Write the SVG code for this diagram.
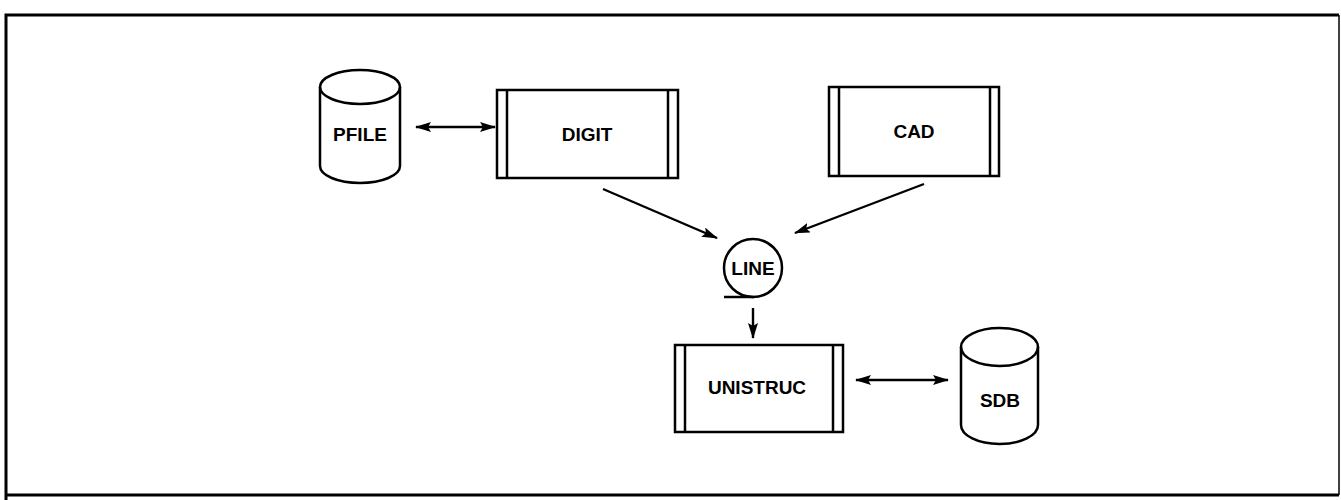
<svg xmlns="http://www.w3.org/2000/svg" width="1341" height="500" viewBox="0 0 1341 500">
<style>
.frame{fill:none;stroke:#000;stroke-width:3}
.shape{fill:#fff;stroke:#000;stroke-width:2.5}
.line{fill:none;stroke:#000;stroke-width:2.5}
.conn{fill:none;stroke:#000;stroke-width:2.4}
.lbl{font-family:"Liberation Sans",Arial,sans-serif;font-weight:bold;font-size:19px;text-anchor:middle;fill:#000}
</style>
<defs>
<marker id="ah" viewBox="0 0 16 10" refX="15" refY="5" markerWidth="16" markerHeight="10" markerUnits="userSpaceOnUse" orient="auto-start-reverse">
<path d="M0,0 L16,5 L0,10 L3,5 Z" fill="#000"/>
</marker>
</defs>
<rect width="1341" height="500" fill="#fff"/>
<g id="frame">
<path class="frame" d="M6,500 V15 H1339"/>
<path d="M1339,15 V495" stroke="#000" stroke-width="1.5" fill="none"/>
<path d="M5,495 H1339" stroke="#000" stroke-width="3" fill="none"/>
</g>
<g id="connectors">
<line class="conn" x1="416" y1="127" x2="495" y2="127" marker-start="url(#ah)" marker-end="url(#ah)"/>
<line class="conn" x1="603" y1="189" x2="717" y2="238" marker-end="url(#ah)"/>
<line class="conn" x1="924" y1="184" x2="795" y2="233" marker-end="url(#ah)"/>
<line class="conn" x1="753" y1="308" x2="753" y2="338" marker-end="url(#ah)"/>
<line class="conn" x1="856" y1="380" x2="948" y2="380" marker-start="url(#ah)" marker-end="url(#ah)"/>
</g>
<g id="pfile">
<path class="shape" d="M320,87 V166 A40,17 0 0 0 400,166 V87 A40,17 0 0 0 320,87 Z"/>
<path class="line" d="M320,87 A40,17 0 0 0 400,87"/>
<text class="lbl" x="360" y="141">PFILE</text>
</g>
<g id="digit">
<rect class="shape" x="497" y="90" width="181" height="88"/>
<line class="line" x1="507" y1="90" x2="507" y2="178"/>
<line class="line" x1="668" y1="90" x2="668" y2="178"/>
<text class="lbl" x="587" y="141">DIGIT</text>
</g>
<g id="cad">
<rect class="shape" x="829" y="87" width="170" height="89"/>
<line class="line" x1="839" y1="87" x2="839" y2="176"/>
<line class="line" x1="990" y1="87" x2="990" y2="176"/>
<text class="lbl" x="914" y="138">CAD</text>
</g>
<g id="line">
<circle class="shape" cx="753" cy="268" r="29"/>
<line class="line" x1="724" y1="297" x2="754" y2="297"/>
<text class="lbl" x="753" y="275">LINE</text>
</g>
<g id="unistruc">
<rect class="shape" x="675" y="345" width="168" height="87"/>
<line class="line" x1="685" y1="345" x2="685" y2="432"/>
<line class="line" x1="833" y1="345" x2="833" y2="432"/>
<text class="lbl" x="757" y="394">UNISTRUC</text>
</g>
<g id="sdb">
<path class="shape" d="M961,347 V425 A38.5,19 0 0 0 1038,425 V347 A38.5,19 0 0 0 961,347 Z"/>
<path class="line" d="M961,347 A38.5,19 0 0 0 1038,347"/>
<text class="lbl" x="1000" y="407">SDB</text>
</g>
</svg>
